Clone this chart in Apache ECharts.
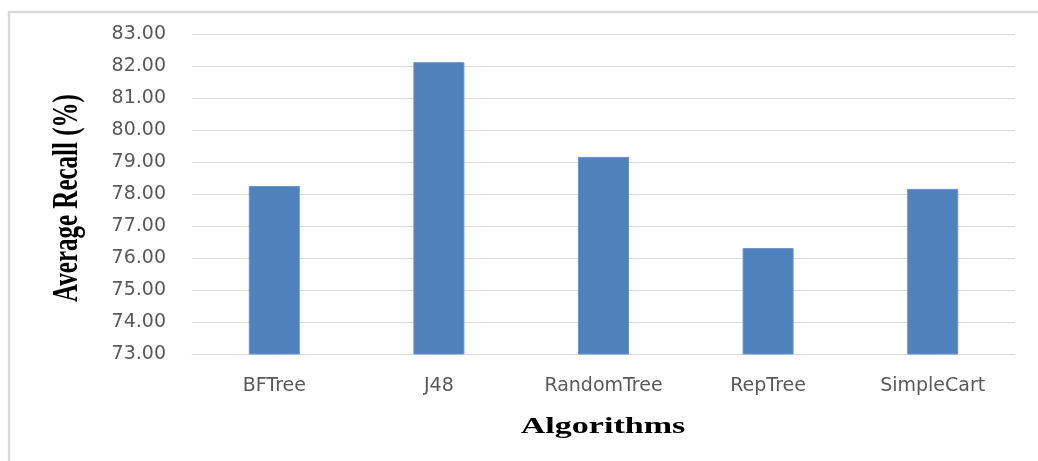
<!DOCTYPE html>
<html>
<head>
<meta charset="utf-8">
<script src="https://cdn.jsdelivr.net/npm/echarts@6/dist/echarts.min.js"></script>
<style>
  html, body { margin: 0; padding: 0; background: #fff; }
  #chart { width: 1038px; height: 461px; }
</style>
</head>
<body>
<div id="chart"></div>
<script>
// Average recall per decision-tree algorithm
const algorithms = ['BFTree', 'J48', 'RandomTree', 'RepTree', 'SimpleCart'];
const averageRecall = [78.25, 82.12, 79.16, 76.31, 78.16];
const recallMin = 73;
const recallMax = 83;
const recallStep = 1;

const chart = echarts.init(document.getElementById('chart'));

chart.setOption({
  backgroundColor: '#ffffff',
  animation: false,
  grid: { left: 192, right: 23, top: 34, bottom: 107 },
  xAxis: {
    type: 'category',
    data: algorithms,
    axisLine: { show: true, lineStyle: { color: '#d9d9d9', width: 1 } },
    axisTick: { show: false },
    axisLabel: {
      color: '#595959',
      fontFamily: 'DejaVu Sans',
      fontSize: 19,
      margin: 23
    }
  },
  yAxis: {
    type: 'value',
    min: recallMin,
    max: recallMax,
    interval: recallStep,
    axisLine: { show: false },
    axisTick: { show: false },
    splitLine: { lineStyle: { color: '#d9d9d9', width: 1 } },
    axisLabel: {
      color: '#595959',
      fontFamily: 'DejaVu Sans',
      fontSize: 19,
      margin: 26,
      formatter: v => v.toFixed(2)
    }
  },
  series: [{
    type: 'bar',
    data: averageRecall,
    barWidth: 51,
    itemStyle: { color: '#4f81bd', borderColor: '#6b93c6', borderWidth: 1 }
  }],
  graphic: [
    {
      // outer chart frame
      type: 'rect',
      shape: { x: 9, y: 12, width: 1200, height: 600 },
      style: { fill: 'none', stroke: '#d9d9d9', lineWidth: 2.5 },
      silent: true
    },
    {
      // y-axis title
      type: 'text',
      x: 68,
      y: 198,
      rotation: Math.PI / 2,
      scaleY: 1.4,
      style: {
        text: 'Average Recall (%)',
        font: 'bold 25px "Liberation Serif"',
        fill: '#000000',
        textAlign: 'center',
        textVerticalAlign: 'middle'
      },
      silent: true
    },
    {
      // x-axis title
      type: 'text',
      x: 603,
      y: 427,
      scaleX: 1.42,
      style: {
        text: 'Algorithms',
        font: 'bold 24px "Liberation Serif"',
        fill: '#000000',
        textAlign: 'center',
        textVerticalAlign: 'middle'
      },
      silent: true
    }
  ]
});
</script>
</body>
</html>
